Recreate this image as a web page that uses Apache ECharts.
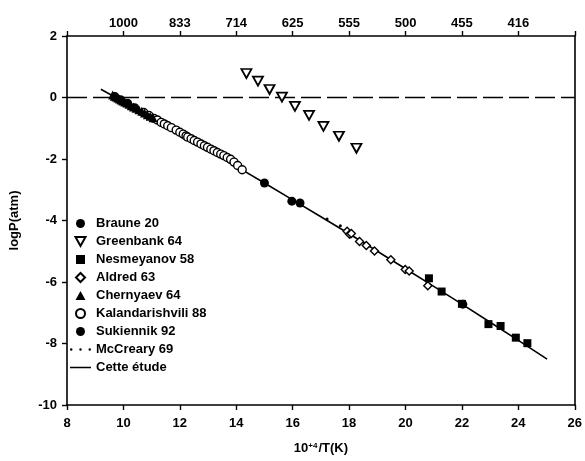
<!DOCTYPE html>
<html>
<head>
<meta charset="utf-8">
<script src="https://cdn.jsdelivr.net/npm/echarts@6/dist/echarts.min.js"></script>
<style>
html, body { margin: 0; padding: 0; background: #fff; }
#chart { width: 585px; height: 461px; }
</style>
</head>
<body>
<div id="chart"></div>
<script>
// Vapour pressure data: x = 10^4/T (K^-1), y = log P (atm)
const braune20 = [[9.70, 0.03], [9.90, -0.07], [10.15, -0.19], [10.40, -0.33]];
const greenbank64 = [[14.36, 0.78], [14.77, 0.53], [15.18, 0.26], [15.62, 0.01], [16.08, -0.29],
  [16.58, -0.58], [17.09, -0.94], [17.64, -1.26], [18.26, -1.65]];
const nesmeyanov58 = [[20.83, -5.88], [21.28, -6.31], [22.00, -6.71], [22.94, -7.37], [23.37, -7.43],
  [23.91, -7.81], [24.32, -7.99]];
const aldred63 = [[17.93, -4.35], [18.02, -4.45], [18.08, -4.42], [18.37, -4.68], [18.61, -4.81],
  [18.90, -4.99], [19.48, -5.28], [19.99, -5.59], [20.13, -5.64], [20.79, -6.12]];
const chernyaev64 = [[9.62, 0.08], [9.68, 0.04], [9.74, 0.02], [9.80, -0.02], [9.86, -0.05], [9.92, -0.08],
  [9.98, -0.11], [10.05, -0.15], [10.12, -0.18], [10.20, -0.22], [10.28, -0.27], [10.36, -0.31],
  [10.45, -0.35], [10.55, -0.40], [10.65, -0.45], [10.75, -0.50], [10.85, -0.56], [10.95, -0.61],
  [11.05, -0.66]];
const kalandarishvili88 = [[10.72, -0.49], [10.90, -0.58], [11.08, -0.68], [11.20, -0.73], [11.34, -0.81],
  [11.45, -0.86], [11.57, -0.92], [11.70, -0.98], [11.87, -1.06], [12.00, -1.13], [12.12, -1.19],
  [12.22, -1.25], [12.28, -1.29], [12.40, -1.34], [12.51, -1.40], [12.63, -1.45], [12.75, -1.51],
  [12.87, -1.57], [12.98, -1.62], [13.10, -1.68], [13.21, -1.73], [13.33, -1.79], [13.45, -1.84],
  [13.56, -1.89], [13.68, -1.95], [13.80, -2.01], [13.92, -2.10], [14.05, -2.21], [14.21, -2.35]];
const sukiennik92 = [[15.00, -2.78], [15.97, -3.37], [16.26, -3.43], [22.03, -6.72]];
const mcCreary69 = [[17.22, -3.95], [17.69, -4.17]];
const cetteEtude = [[9.2, 0.27], [10, -0.14], [11, -0.66], [12, -1.18], [13, -1.71], [14, -2.24],
  [15, -2.78], [16, -3.33], [17, -3.88], [18, -4.43], [19, -5.00], [20, -5.57], [21, -6.14],
  [22, -6.72], [23, -7.31], [24, -7.90], [25.02, -8.51]];
const zeroLine = [[8, 0], [26, 0]];

// Temperature scale on the top axis (K), placed at 10^4/T
const topTickValues = [10, 12, 14, 16, 18, 20, 22, 24];
const topTickLabels = ['1000', '833', '714', '625', '555', '500', '455', '416'];

const FONT = '"Liberation Sans", Arial, sans-serif';
const textStyle = { color: '#000', fontFamily: FONT, fontSize: 13, fontWeight: 'bold' };
const axisLine = { show: true, onZero: false, lineStyle: { color: '#000', width: 1.6 } };
const tick = { show: true, inside: false, length: 5, lineStyle: { color: '#000', width: 1.4 } };

const openStyle = { color: '#fff', borderColor: '#000', borderWidth: 1.4, opacity: 1 };
const fillStyle = { color: '#000', opacity: 1 };

// Marker and legend shapes
const downTri = 'path://M0,0L10,0L5,9Z';
const upTri = 'path://M5,0L10,9L0,9Z';
const square = 'path://M0,0L10,0L10,10L0,10Z';
const diamond = 'path://M5,0L10,5L5,10L0,5Z';
const threeDots = 'path://M2,0.8A1.2,1.2 0 1,1 1.99,0.8ZM11,0.8A1.2,1.2 0 1,1 10.99,0.8ZM20,0.8A1.2,1.2 0 1,1 19.99,0.8Z';
const solidBar = 'path://M0,0L22,0L22,1.6L0,1.6Z';

const chart = echarts.init(document.getElementById('chart'), null, { renderer: 'canvas' });
chart.setOption({
  animation: false,
  backgroundColor: '#fff',
  textStyle: { fontFamily: FONT },
  grid: { left: 65, right: 8, top: 36, bottom: 56, containLabel: false },
  xAxis: [
    {
      type: 'value', position: 'bottom', min: 8, max: 26, interval: 2,
      axisLine, axisTick: tick, splitLine: { show: false },
      axisLabel: Object.assign({ margin: 12 }, textStyle),
      name: '{b|10}{s|+4}{b|/T(K)}', nameLocation: 'middle', nameGap: 37,
      nameTextStyle: {
        rich: {
          b: { fontFamily: FONT, fontSize: 13, fontWeight: 'bold', color: '#000' },
          s: { fontFamily: FONT, fontSize: 8, fontWeight: 'bold', color: '#000', verticalAlign: 'top', padding: [0, 1, 5, 0] }
        }
      }
    },
    {
      type: 'value', position: 'top', min: 8, max: 26, interval: 2,
      axisLine, splitLine: { show: false },
      axisTick: { show: true, inside: false, length: 5, lineStyle: { color: '#000', width: 1.4 },
        interval: function (i, v) { return topTickValues.indexOf(v) >= 0; } },
      axisLabel: Object.assign({
        margin: 6,
        formatter: function (v) {
          const i = topTickValues.indexOf(v);
          return i < 0 ? '' : topTickLabels[i];
        }
      }, textStyle)
    }
  ],
  yAxis: [
    {
      type: 'value', position: 'left', min: -10, max: 2, interval: 2,
      axisLine, axisTick: tick, splitLine: { show: false },
      axisLabel: Object.assign({ margin: 10 }, textStyle),
      name: 'logP(atm)', nameLocation: 'middle', nameGap: 46, nameRotate: 90,
      nameTextStyle: textStyle
    },
    {
      type: 'value', position: 'right', min: -10, max: 2, interval: 2,
      axisLine, axisTick: { show: false }, axisLabel: { show: false }, splitLine: { show: false }
    }
  ],
  legend: {
    orient: 'vertical', left: 70, top: 217, padding: 0,
    itemWidth: 21, itemHeight: 9, itemGap: 5,
    textStyle: Object.assign({ padding: [0, 0, 0, 0] }, textStyle),
    itemTextGap: 4, selectedMode: false,
    data: [
      { name: 'Braune 20', icon: 'circle' },
      { name: 'Greenbank 64', icon: downTri },
      { name: 'Nesmeyanov 58', icon: square },
      { name: 'Aldred 63', icon: diamond },
      { name: 'Chernyaev 64', icon: upTri },
      { name: 'Kalandarishvili 88', icon: 'circle' },
      { name: 'Sukiennik 92', icon: 'circle' },
      { name: 'McCreary 69', icon: threeDots },
      { name: 'Cette étude', icon: solidBar }
    ]
  },
  series: [
    {
      name: 'zero', type: 'line', data: zeroLine, symbol: 'none', silent: true, z: 1,
      lineStyle: { color: '#000', width: 1.6, type: [20, 6] }
    },
    {
      name: 'Cette étude', type: 'line', data: cetteEtude, symbol: 'none', smooth: false, z: 2,
      lineStyle: { color: '#000', width: 1.6 }, itemStyle: { color: '#000' }
    },
    { name: 'Kalandarishvili 88', type: 'scatter', data: kalandarishvili88, symbol: 'circle', symbolSize: 8, itemStyle: openStyle, z: 3 },
    { name: 'Chernyaev 64', type: 'scatter', data: chernyaev64, symbol: upTri, symbolSize: [9, 9], itemStyle: fillStyle, z: 4 },
    { name: 'Braune 20', type: 'scatter', data: braune20, symbol: 'circle', symbolSize: 9, itemStyle: fillStyle, z: 4 },
    { name: 'Greenbank 64', type: 'scatter', data: greenbank64, symbol: downTri, symbolSize: [10, 9], itemStyle: Object.assign({}, openStyle, { borderWidth: 1.8 }), z: 4 },
    { name: 'Aldred 63', type: 'scatter', data: aldred63, symbol: diamond, symbolSize: 8, itemStyle: openStyle, z: 4 },
    { name: 'Nesmeyanov 58', type: 'scatter', data: nesmeyanov58, symbol: square, symbolSize: 8, itemStyle: fillStyle, z: 5 },
    { name: 'Sukiennik 92', type: 'scatter', data: sukiennik92, symbol: 'circle', symbolSize: 9, itemStyle: fillStyle, z: 5 },
    { name: 'McCreary 69', type: 'scatter', data: mcCreary69, symbol: 'circle', symbolSize: 3, itemStyle: fillStyle, z: 5 }
  ]
});
</script>
</body>
</html>
